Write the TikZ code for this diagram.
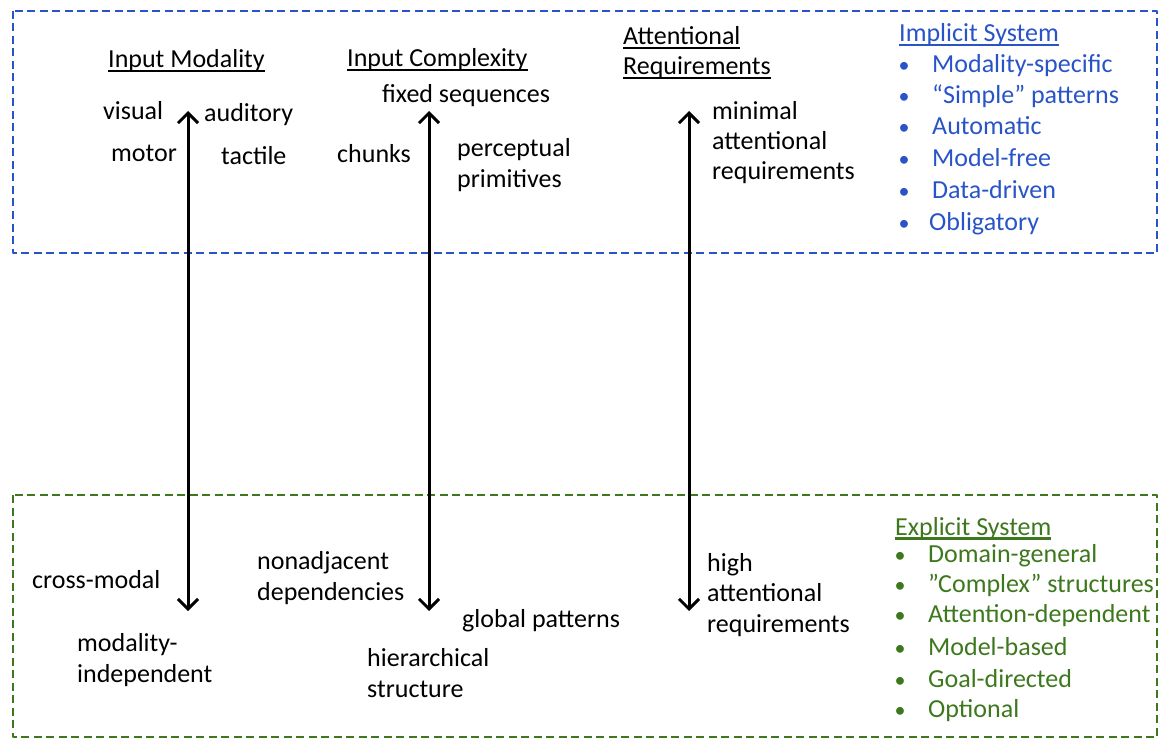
\documentclass[tikz,border=0pt]{standalone}
\usepackage{fontspec}
\setmainfont{Carlito}
\usetikzlibrary{arrows.meta}
\definecolor{sysblue}{RGB}{40,84,200}
\definecolor{sysgreen}{RGB}{62,120,30}
\newcommand{\ulword}[1]{\setbox0=\hbox{#1}\rlap{\rule[-4.5pt]{\wd0}{2.4pt}}\box0}
\begin{document}
\begin{tikzpicture}[x=1pt, y=-1pt, font=\fontsize{26}{30.5}\selectfont, line join=round,
  >={Straight Barb[length=10pt,width=20pt]},
  lbl/.style={anchor=base west, inner sep=0pt, align=left},
  dot/.style={anchor=base, inner sep=0pt, font=\fontsize{22}{26}\selectfont},
  sysbox/.style={line width=2.5pt, dash pattern=on 8pt off 4.5pt},
  biarrow/.style={<->, line width=3pt}]
	\useasboundingbox (0,0) rectangle (1160,741);
	
	\draw[sysbox, sysblue] (13,11) rectangle (1157,253);
	\draw[sysbox, sysgreen] (13,495) rectangle (1157,737);
	
	% the three scales (multi-line labels sit on their last baseline)
	\node[lbl] (modhead) at (108,68) {\ulword{Input Modality}};
	\node[lbl] (cpxhead) at (347,67) {\ulword{Input Complexity}};
	\node[lbl] (atthead) at (623,75) {\ulword{Attentional}\\\ulword{Requirements}};
	
	\node[lbl] (visual) at (103,120) {visual};
	\node[lbl] (auditory) at (204,122) {auditory};
	\node[lbl] (motor) at (111,162) {motor};
	\node[lbl] (tactile) at (221,165) {tactile};
	\node[lbl] (fixed) at (382,103) {fixed sequences};
	\node[lbl] (chunks) at (337,163) {chunks};
	\node[lbl] (percept) at (457,187) {perceptual\\primitives};
	\node[lbl] (minatt) at (712,180) {minimal\\attentional\\requirements};
	
	\node[lbl] (crossmod) at (32,588) {cross-modal};
	\node[lbl] (modind) at (77,682) {modality-\\independent};
	\node[lbl] (nonadj) at (257,600) {nonadjacent\\dependencies};
	\node[lbl] (global) at (462,627) {global patterns};
	\node[lbl] (hier) at (367,697) {hierarchical\\structure};
	\node[lbl] (highatt) at (707,632) {high\\attentional\\requirements};
	
	\coordinate (modtop) at (188,111); \coordinate (modbot) at (188,611);
	\coordinate (cpxtop) at (429,111); \coordinate (cpxbot) at (429,611);
	\coordinate (atttop) at (689,111); \coordinate (attbot) at (689,611);
	\draw[biarrow] (modtop) -- (modbot);
	\draw[biarrow] (cpxtop) -- (cpxbot);
	\draw[biarrow] (atttop) -- (attbot);
	
	% the two systems
	\node[lbl, text=sysblue] (implicit) at (899,42) {\ulword{Implicit System}};
	\foreach \x/\y/\item [count=\i] in {932/73/Modality-specific, 932/104/“Simple” patterns,
		932/135/Automatic, 932/167/Model-free, 932/198/Data-driven, 929/230/Obligatory}
	{
		\node[dot, text=sysblue] (impdot\i) at (904,\y) {•};
		\node[lbl, text=sysblue] (imp\i) at (\x,\y) {\item};
	}
	
	\node[lbl, text=sysgreen] (explicit) at (895,535) {\ulword{Explicit System}};
	\foreach \y/\item [count=\i] in {562/Domain-general, 592/”Complex” structures,
		622/Attention-dependent, 655/Model-based, 687/Goal-directed, 717/Optional}
	{
		\node[dot, text=sysgreen] (expdot\i) at (900,\y) {•};
		\node[lbl, text=sysgreen] (exp\i) at (928,\y) {\item};
	}
\end{tikzpicture}
\end{document}
